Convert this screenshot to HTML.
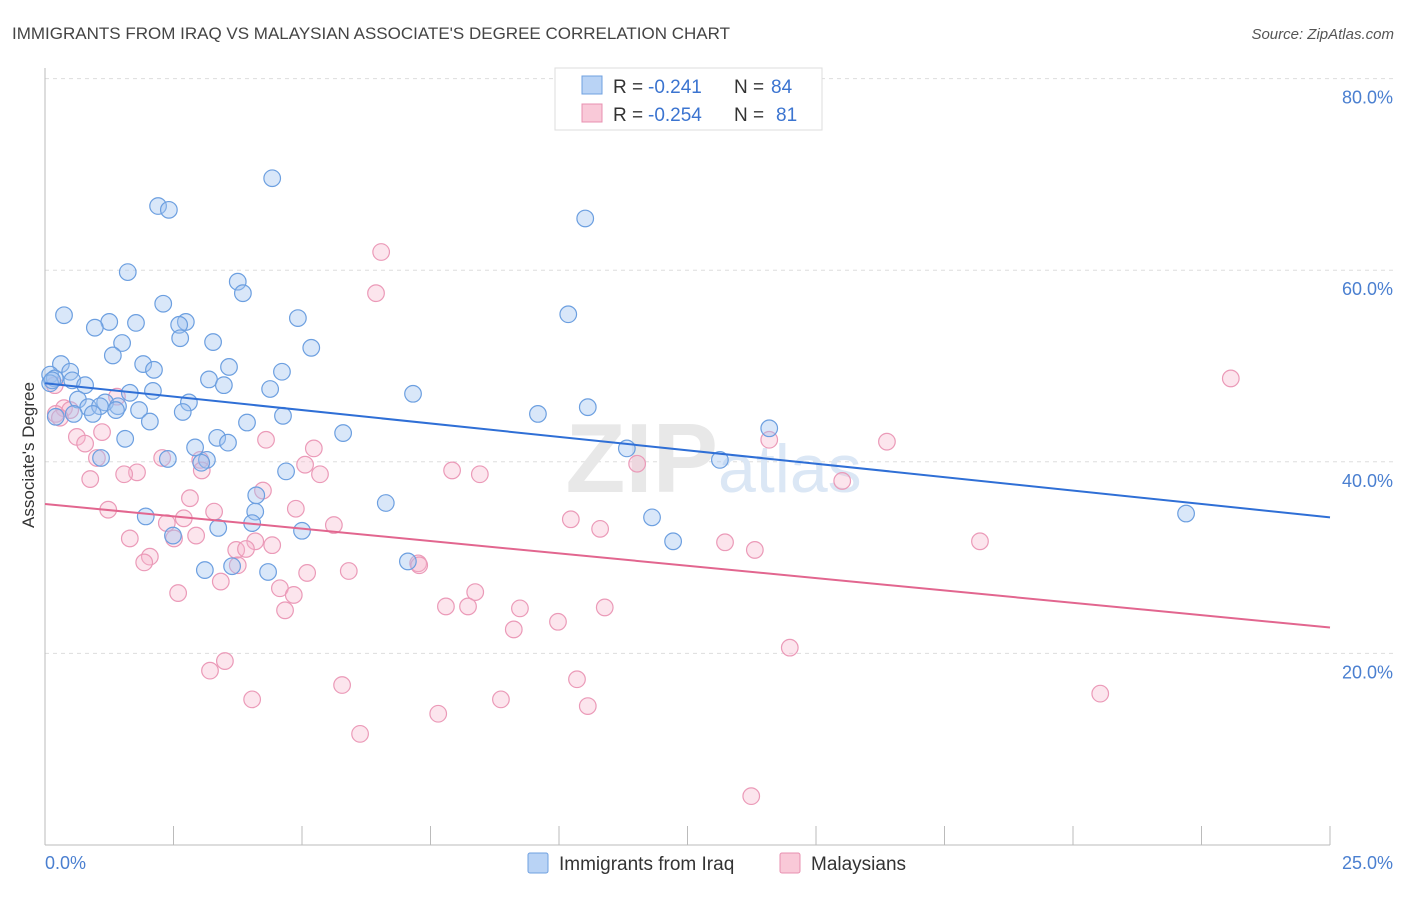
<!DOCTYPE html>
<html><head><meta charset="utf-8"><style>
body{margin:0;background:#fff;font-family:"Liberation Sans",sans-serif;}
svg text{font-family:"Liberation Sans",sans-serif;}
</style></head><body>
<svg id="chart" width="1406" height="892" xmlns="http://www.w3.org/2000/svg">
<text x="12" y="39" font-size="17" fill="#444">IMMIGRANTS FROM IRAQ VS MALAYSIAN ASSOCIATE'S DEGREE CORRELATION CHART</text>
<text x="1394" y="39" font-size="15" fill="#555" font-style="italic" text-anchor="end">Source: ZipAtlas.com</text>
<g id="grid"></g>
<text x="718" y="492" font-size="98" font-family="Liberation Serif" fill="#e8e8e8" text-anchor="end" font-weight="bold">ZIP</text>
<text x="718" y="492" font-size="68" fill="#dbe7f5">atlas</text>
<g id="marks"></g>
<text transform="translate(34,455) rotate(-90)" font-size="17" fill="#333" text-anchor="middle">Associate's Degree</text>
<text x="45" y="869" font-size="18" fill="#4a7fd0">0.0%</text>
<text x="1393" y="869" font-size="18" fill="#4a7fd0" text-anchor="end">25.0%</text>
<g>
<rect x="555" y="68" width="267" height="62" fill="#fff" stroke="#ddd"/>
<rect x="582" y="76" width="20" height="18" fill="#b9d3f5" stroke="#6fa0e0"/>
<rect x="582" y="104" width="20" height="18" fill="#f9c9d8" stroke="#e890b0"/>
<text x="613" y="93" font-size="19" fill="#333">R =</text>
<text x="648" y="93" font-size="19" fill="#3b74d0">-0.241</text>
<text x="734" y="93" font-size="19" fill="#333">N =</text>
<text x="771" y="93" font-size="19" fill="#3b74d0">84</text>
<text x="613" y="121" font-size="19" fill="#333">R =</text>
<text x="648" y="121" font-size="19" fill="#3b74d0">-0.254</text>
<text x="734" y="121" font-size="19" fill="#333">N =</text>
<text x="776" y="121" font-size="19" fill="#3b74d0">81</text>
</g>
<g>
<rect x="528" y="853" width="20" height="20" fill="#b9d3f5" stroke="#6fa0e0" rx="2"/>
<text x="559" y="870" font-size="19" fill="#333">Immigrants from Iraq</text>
<rect x="780" y="853" width="20" height="20" fill="#f9c9d8" stroke="#e890b0" rx="2"/>
<text x="811" y="870" font-size="19" fill="#333">Malaysians</text>
</g>
</svg>
<script>
const yTicks=[20,40,60,80];
const blueX=[4.42,2.20,2.41,10.51,1.61,3.75,3.85,2.30,0.37,4.92,10.18,1.25,1.77,0.97,2.74,2.61,2.63,3.27,5.18,1.50,1.32,0.31,1.91,3.58,2.12,4.61,0.49,0.10,0.19,3.19,0.53,0.78,3.48,2.10,1.65,4.38,7.16,0.64,1.17,2.80,1.42,0.84,1.07,1.38,1.83,0.56,0.93,2.68,4.63,0.21,9.59,10.56,2.04,3.93,5.80,14.09,1.56,3.35,3.56,11.32,2.92,2.39,3.15,3.04,1.09,13.13,4.69,4.11,6.63,22.20,11.81,1.96,4.09,3.37,4.03,5.00,2.49,12.22,7.06,3.11,3.64,4.34,0.10,0.14];
const blueY=[69.6,66.7,66.3,65.4,59.8,58.8,57.6,56.5,55.3,55.0,55.4,54.6,54.5,54.0,54.6,54.3,52.9,52.5,51.9,52.4,51.1,50.2,50.2,49.9,49.6,49.4,49.4,49.1,48.7,48.6,48.5,48.0,48.0,47.4,47.2,47.6,47.1,46.5,46.2,46.2,45.8,45.7,45.8,45.4,45.4,45.0,45.0,45.2,44.8,44.7,45.0,45.7,44.2,44.1,43.0,43.5,42.4,42.5,42.0,41.4,41.5,40.3,40.2,39.9,40.4,40.2,39.0,36.5,35.7,34.6,34.2,34.3,34.8,33.1,33.6,32.8,32.3,31.7,29.6,28.7,29.1,28.5,48.2,48.5];
const pinkX=[6.54,6.44,23.07,0.19,1.40,0.37,0.49,0.21,0.29,1.11,0.62,0.78,16.38,14.09,4.30,5.23,1.01,2.28,3.02,5.06,11.52,7.92,5.35,8.46,1.79,1.54,3.05,0.88,15.51,4.24,2.82,4.88,1.23,3.29,2.70,10.23,5.62,2.37,10.80,2.94,1.65,2.51,4.09,4.42,3.72,3.91,18.19,13.23,13.81,2.04,1.93,7.26,7.28,3.75,5.91,5.10,4.57,3.42,2.59,4.84,8.37,7.80,8.23,10.89,9.24,4.67,9.98,9.12,14.49,3.50,3.21,10.35,5.78,20.53,4.03,8.87,10.56,7.65,6.13,13.74];
const pinkY=[61.9,57.6,48.7,48.0,46.8,45.6,45.4,45.0,44.6,43.1,42.6,41.9,42.1,42.3,42.3,41.4,40.4,40.4,40.2,39.7,39.8,39.1,38.7,38.7,38.9,38.7,39.1,38.2,38.0,37.0,36.2,35.1,35.0,34.8,34.1,34.0,33.4,33.6,33.0,32.3,32.0,32.0,31.7,31.3,30.8,30.9,31.7,31.6,30.8,30.1,29.5,29.4,29.2,29.2,28.6,28.4,26.8,27.5,26.3,26.1,26.4,24.9,24.9,24.8,24.7,24.5,23.3,22.5,20.6,19.2,18.2,17.3,16.7,15.8,15.2,15.2,14.5,13.7,11.6,5.1];
const blueTrend=[48.2,34.2];
const pinkTrend=[35.6,22.7];
const NS="http://www.w3.org/2000/svg";
const xs=v=>45+v/25*1285;
const ys=v=>845-v*9.58;
function mk(tag,attrs,parent){const e=document.createElementNS(NS,tag);for(const k in attrs)e.setAttribute(k,attrs[k]);parent.appendChild(e);return e;}
const grid=document.getElementById('grid'),marks=document.getElementById('marks');
yTicks.forEach(t=>{
 const l=mk('line',{x1:45,x2:1393,y1:ys(t),y2:ys(t),stroke:'#ddd','stroke-dasharray':'4,4'},grid);
 
 
 const tx=mk('text',{x:1393,y:ys(t)+25,'font-size':18,fill:'#4a7fd0','text-anchor':'end'},grid);
 tx.textContent=t.toFixed(1)+'%';
 
 
});
const ax=mk('line',{x1:45,x2:1330,y1:845,y2:845,stroke:'#bbb'},grid);


const ay=mk('line',{x1:45,x2:45,y1:68,y2:845,stroke:'#bbb'},grid);


for(let i=0;i<=10;i++){
 const tk=mk('line',{x1:xs(i*2.5),x2:xs(i*2.5),y1:826,y2:845,stroke:'#bbb'},grid);
 
 
}
function pts(X,Y,fill,stroke,name){
 X.forEach((x,i)=>{
  const c=mk('circle',{cx:xs(x),cy:ys(Y[i]),r:8.3,fill:fill,stroke:stroke,'stroke-width':1.2},marks);
  
  
 });
}
pts(pinkX,pinkY,'rgba(246,180,202,0.35)','#eb9ab8','point-malaysians');
pts(blueX,blueY,'rgba(160,196,240,0.4)','#6c9fe0','point-iraq');
const bl=mk('line',{x1:xs(0),y1:ys(blueTrend[0]),x2:xs(25),y2:ys(blueTrend[1]),stroke:'#2f6fd6','stroke-width':2},marks);


const pl=mk('line',{x1:xs(0),y1:ys(pinkTrend[0]),x2:xs(25),y2:ys(pinkTrend[1]),stroke:'#e2668f','stroke-width':2},marks);


</script>
</body></html>
